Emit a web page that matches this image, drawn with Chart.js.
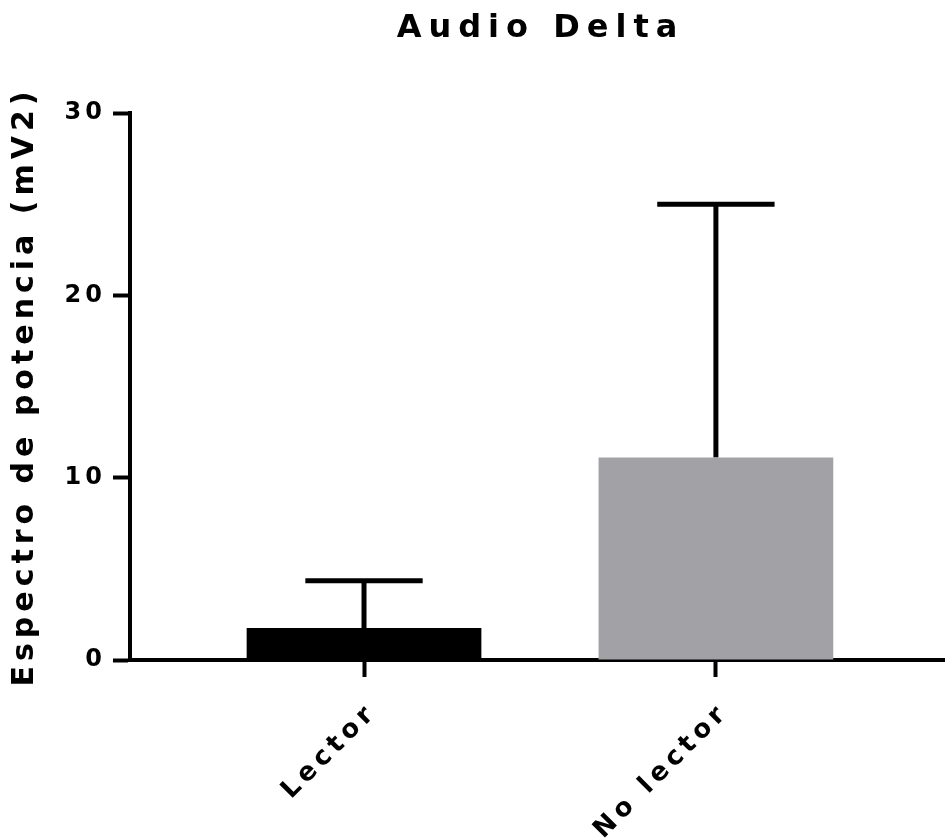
<!DOCTYPE html>
<html>
<head>
<meta charset="utf-8">
<script src="https://cdn.jsdelivr.net/npm/chart.js@4.4.1/dist/chart.umd.min.js"></script>
<style>
  html, body { margin: 0; padding: 0; background: #ffffff; }
  #c { display: block; }
</style>
</head>
<body>
<canvas id="c" width="945" height="839"></canvas>
<script>
// ---- data ----
const chartTitle = 'Audio Delta';
const yAxisTitle = 'Espectro de potencia (mV2)';
const categories = ['Lector', 'No lector'];
const means = [1.75, 11.1];
const errors = [2.6, 13.9];
const yTickValues = [0, 10, 20, 30];
const barColors = ['#000000', '#a2a1a6'];

const FONT = "'DejaVu Sans', Verdana, sans-serif";

function withSpacing(fn, ls, dx, dy) {
  return function (...args) {
    const c = this.ctx;
    c.save();
    c.letterSpacing = ls;
    if (dx || dy) c.translate(dx || 0, dy || 0);
    const r = fn.apply(this, args);
    c.restore();
    return r;
  };
}

const spacingPlugin = {
  id: 'spacing',
  beforeDraw(chart) {
    const t = chart.titleBlock;
    if (t && !t._lsPatched) { t.draw = withSpacing(t.draw, '7px', 3, 0); t._lsPatched = true; }
    const x = chart.scales.x, y = chart.scales.y;
    if (x && !x._lsPatched) { x.drawLabels = withSpacing(x.drawLabels, '5px', 9, 6); x._lsPatched = true; }
    if (y && !y._lsPatched) {
      y.drawLabels = withSpacing(y.drawLabels, '4px', 0, 0);
      y.drawTitle = withSpacing(y.drawTitle, '5px', 0, 0);
      y._lsPatched = true;
    }
  }
};

const errorBarPlugin = {
  id: 'errorBars',
  beforeDatasetsDraw(chart) {
    const ctx = chart.ctx;
    const xs = chart.scales.x, ys = chart.scales.y;
    const meta = chart.getDatasetMeta(0);
    ctx.save();
    ctx.strokeStyle = '#000000';
    ctx.lineWidth = 5;
    ctx.lineCap = 'butt';
    means.forEach((m, i) => {
      const bar = meta.data[i];
      const x = xs.getPixelForValue(i);
      const yBase = ys.getPixelForValue(m);
      const yTop = ys.getPixelForValue(m + errors[i]);
      const half = bar.width / 4;
      ctx.beginPath();
      ctx.moveTo(x, yBase);
      ctx.lineTo(x, yTop);
      ctx.moveTo(x - half, yTop);
      ctx.lineTo(x + half, yTop);
      ctx.stroke();
    });
    ctx.restore();
  }
};

new Chart(document.getElementById('c'), {
  type: 'bar',
  data: {
    datasets: [{
      data: means.map((v, i) => ({ x: i, y: v })),
      backgroundColor: barColors,
      borderWidth: 0,
      categoryPercentage: 1,
      barPercentage: 0.667
    }]
  },
  options: {
    responsive: false,
    devicePixelRatio: 1,
    animation: false,
    layout: { padding: 0 },
    plugins: {
      legend: { display: false },
      tooltip: { enabled: false },
      title: {
        display: true,
        fullSize: false,
        text: chartTitle,
        color: '#000000',
        font: { family: FONT, size: 32, weight: 'bold', lineHeight: 1.2 },
        padding: { top: 9, bottom: 65.6 }
      }
    },
    scales: {
      x: {
        type: 'linear',
        min: -0.665,
        max: 1.651,
        offset: false,
        afterBuildTicks(scale) { scale.ticks = categories.map((c, i) => ({ value: i })); },
        afterFit(scale) { scale.height = 179; },
        ticks: {
          autoSkip: false,
          minRotation: 45,
          maxRotation: 45,
          padding: 14,
          color: '#000000',
          font: { family: FONT, size: 26, weight: 'bold' },
          callback: (v) => categories[v]
        },
        grid: {
          display: true,
          offset: false,
          drawOnChartArea: false,
          drawTicks: true,
          tickLength: 17,
          tickWidth: 4,
          tickColor: '#000000'
        },
        border: { display: true, width: 4, color: '#000000' }
      },
      y: {
        type: 'linear',
        min: 0,
        max: 30,
        afterBuildTicks(scale) { scale.ticks = yTickValues.map(v => ({ value: v })); },
        afterFit(scale) { scale.width = 130; },
        ticks: {
          padding: 7,
          color: '#000000',
          font: { family: FONT, size: 24, weight: 'bold' }
        },
        grid: {
          display: true,
          drawOnChartArea: false,
          drawTicks: true,
          tickLength: 17,
          tickWidth: 4,
          tickColor: '#000000'
        },
        border: { display: true, width: 4, color: '#000000' },
        title: {
          display: true,
          text: yAxisTitle,
          color: '#000000',
          font: { family: FONT, size: 30, weight: 'bold' },
          padding: { top: 7, bottom: 0 }
        }
      }
    }
  },
  plugins: [spacingPlugin, errorBarPlugin]
});
</script>
</body>
</html>
